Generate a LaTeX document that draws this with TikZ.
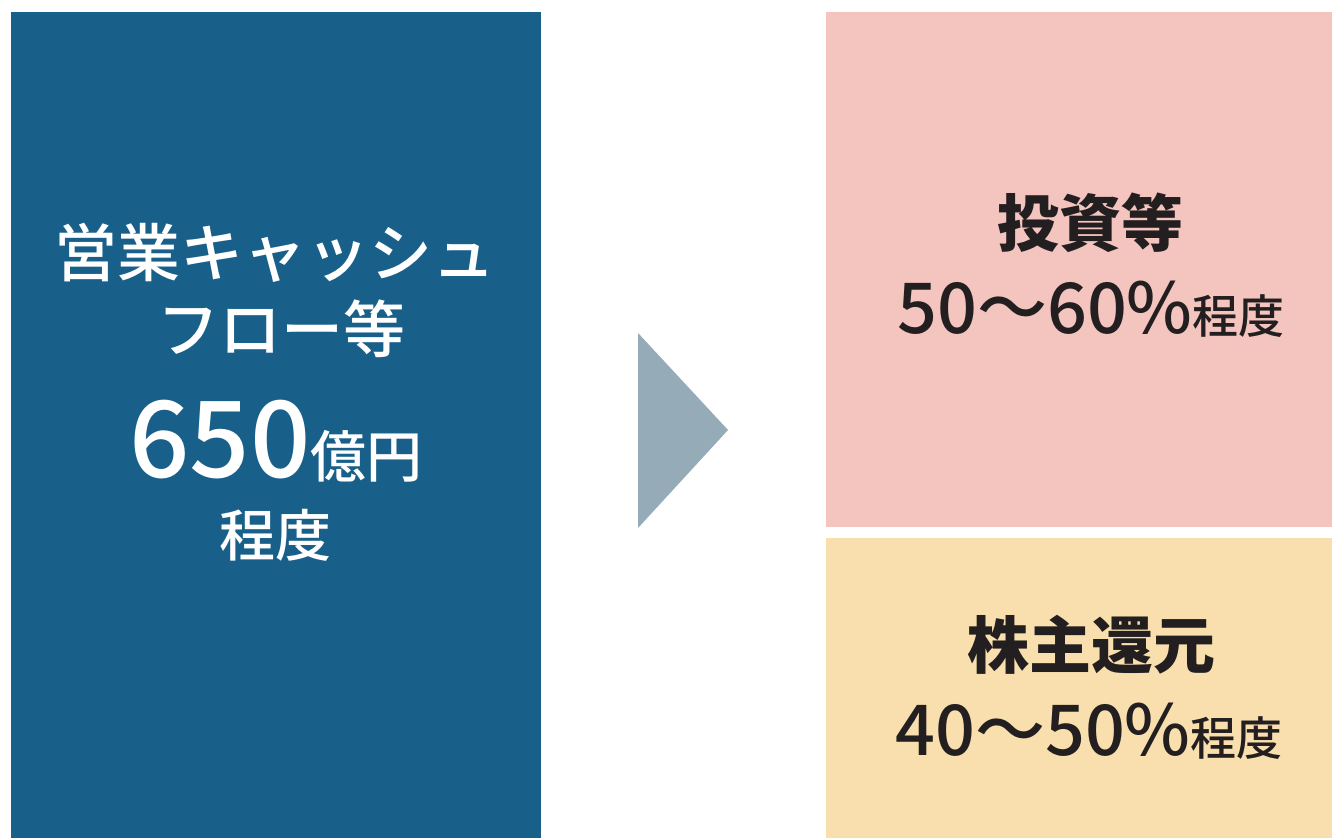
\documentclass[tikz,border=0pt]{standalone}
\usepackage{fontspec}
\newfontfamily\jp{Noto Sans CJK JP}
\newfontfamily\jpm{Noto Sans CJK JP Medium}
\definecolor{boxblue}{HTML}{18608A}
\definecolor{boxpink}{HTML}{F4C4BF}
\definecolor{boxyellow}{HTML}{F8DFAD}
\definecolor{arrowgray}{HTML}{95ACB8}
\definecolor{textdark}{HTML}{231F20}
\tikzset{
  panel/.style={anchor=north west, inner sep=0pt, outer sep=0pt, draw=none},
  wtext/.style={anchor=base, inner sep=0pt, text=white, font=\jpm},
  dtext/.style={anchor=base, inner sep=0pt, text=textdark, font=\jpm},
}
\begin{document}
\begin{tikzpicture}[x=1pt,y=-1pt]
\useasboundingbox (0,0) rectangle (1332,838);
\fill[white] (0,0) rectangle (1332,838);
% panels
\node[panel, fill=boxblue, minimum width=530pt, minimum height=826pt] (cf) at (11,12) {};
\node[panel, fill=boxpink, minimum width=506pt, minimum height=515pt] (inv) at (826,12) {};
\node[panel, fill=boxyellow, minimum width=506pt, minimum height=300pt] (ret) at (826,538) {};
% arrow
\coordinate (ta) at (638,333);
\coordinate (tb) at (728,430);
\coordinate (tc) at (638,528);
\fill[arrowgray] (ta) -- (tb) -- (tc) -- cycle;
% left texts
\node[wtext, font=\jpm\fontsize{63}{63}\selectfont] (l1) at (275,276) {営業キャッシュ};
\node[wtext, font=\jpm\fontsize{62}{62}\selectfont] (l2) at (281,352) {フロー等};
\node[wtext] (l3) at (276,477) {\fontsize{106}{106}\selectfont 650\fontsize{56}{56}\selectfont 億円};
\node[wtext, font=\jpm\fontsize{56}{56}\selectfont] (l4) at (275,556) {程度};
% right top
\node[dtext, font=\jp\bfseries\fontsize{62}{62}\selectfont] (r1) at (1090,246) {投資等};
\node[dtext] (r2) at (1091,333) {\fontsize{70}{70}\selectfont 50〜60\%\fontsize{46}{46}\selectfont 程度};
% right bottom
\node[dtext, font=\jp\bfseries\fontsize{62}{62}\selectfont] (r3) at (1091,668) {株主還元};
\node[dtext] (r4) at (1089,755) {\fontsize{70}{70}\selectfont 40〜50\%\fontsize{46}{46}\selectfont 程度};
\end{tikzpicture}
\end{document}
